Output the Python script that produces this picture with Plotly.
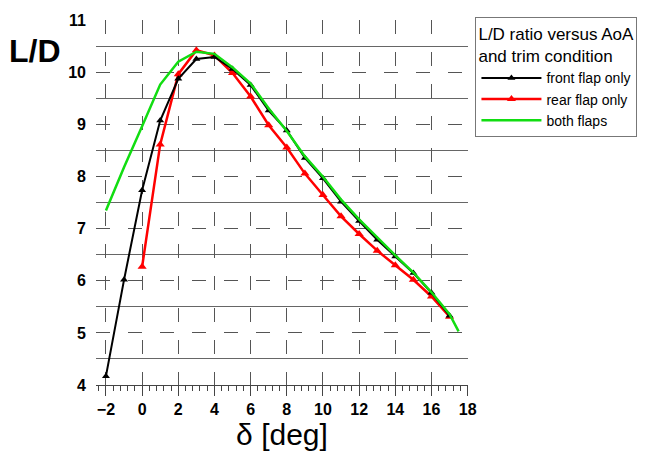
import plotly.graph_objects as go

x_front = [-2, -1, 0, 1, 2, 3, 4, 5, 6, 7, 8, 9, 10, 11, 12, 13, 14, 15, 16, 17]
ld_front = [4.17, 6.02, 7.74, 9.08, 9.88, 10.26, 10.30, 10.07, 9.76, 9.27, 8.89, 8.36, 7.97, 7.52, 7.15, 6.79, 6.47, 6.15, 5.77, 5.33]

x_rear = [0, 1, 2, 3, 4, 5, 6, 7, 8, 9, 10, 11, 12, 13, 14, 15, 16, 17]
ld_rear = [6.27, 8.62, 9.97, 10.43, 10.33, 9.99, 9.54, 8.99, 8.56, 8.06, 7.65, 7.24, 6.90, 6.58, 6.30, 6.02, 5.70, 5.31]

x_both = [-2, -1, 0, 1, 2, 3, 4, 5, 6, 7, 8, 9, 10, 11, 12, 13, 14, 15, 16, 17, 17.5]
ld_both = [7.35, 8.18, 8.97, 9.77, 10.21, 10.40, 10.36, 10.10, 9.79, 9.31, 8.88, 8.39, 8.00, 7.56, 7.18, 6.83, 6.49, 6.16, 5.78, 5.36, 5.03]

x_ticks = [-2, 0, 2, 4, 6, 8, 10, 12, 14, 16, 18]
y_ticks = [4, 5, 6, 7, 8, 9, 10, 11]

FONT = "Liberation Sans, Arial, sans-serif"

fig = go.Figure()
fig.add_trace(go.Scatter(x=x_rear, y=ld_rear, mode="lines+markers", name="rear flap only",
                         line=dict(color="#ff0000", width=2.5),
                         marker=dict(symbol="triangle-up", size=8, color="#ff0000"),
                         legendrank=2))
fig.add_trace(go.Scatter(x=x_front, y=ld_front, mode="lines+markers", name="front flap only",
                         line=dict(color="#000000", width=2),
                         marker=dict(symbol="triangle-up", size=7, color="#000000"),
                         legendrank=1))
fig.add_trace(go.Scatter(x=x_both, y=ld_both, mode="lines", name="both flaps",
                         line=dict(color="#11dd11", width=2.5),
                         legendrank=3))

fig.update_layout(
    width=649, height=461,
    margin=dict(l=96, r=178, t=18, b=76),
    paper_bgcolor="white", plot_bgcolor="white",
    font=dict(family=FONT, color="black"),
    showlegend=True,
    legend=dict(
        x=1.02, y=1.008, xanchor="left", yanchor="top",
        bordercolor="#777777", borderwidth=1, bgcolor="white",
        title=dict(text="L/D ratio versus AoA<br>and trim condition", font=dict(size=17, family=FONT)),
        font=dict(size=14, family=FONT),
        tracegroupgap=0, itemwidth=60,
    ),
    xaxis=dict(
        range=[-2.55, 18.02], tickvals=x_ticks, ticktext=[("\u22122" if v < 0 else str(v)) for v in x_ticks],
        showgrid=True, gridcolor="#555555", gridwidth=1, griddash="14px,18px",
        showline=True, linecolor="#444444", linewidth=1,
        ticks="outside", ticklen=10, tickcolor="#444444",
        minor=dict(dtick=0.4, tick0=-2, ticks="outside", ticklen=5, tickcolor="#444444", showgrid=False),
        tickfont=dict(size=16, family=FONT, weight="bold"),
        zeroline=False,
        title=dict(text="\u03b4 [deg]", font=dict(size=30, family=FONT), standoff=6),
    ),
    yaxis=dict(
        range=[4, 11.01], tickvals=y_ticks,
        showgrid=True, gridcolor="#555555", gridwidth=1, griddash="14px,18px",
        minor=dict(tick0=4.5, dtick=1, showgrid=True, gridcolor="#666666", gridwidth=1.2, griddash="solid", ticks=""),
        showline=False, ticks="", zeroline=False,
        tickfont=dict(size=16, family=FONT, weight="bold"),
        ticklabelstandoff=9,
    ),
    annotations=[dict(text="<b>L/D</b>", xref="paper", yref="paper", x=-0.088, y=0.915,
                      xanchor="right", yanchor="middle", showarrow=False,
                      font=dict(size=32, family=FONT, color="black"))],
)

fig.write_html("out.html")
